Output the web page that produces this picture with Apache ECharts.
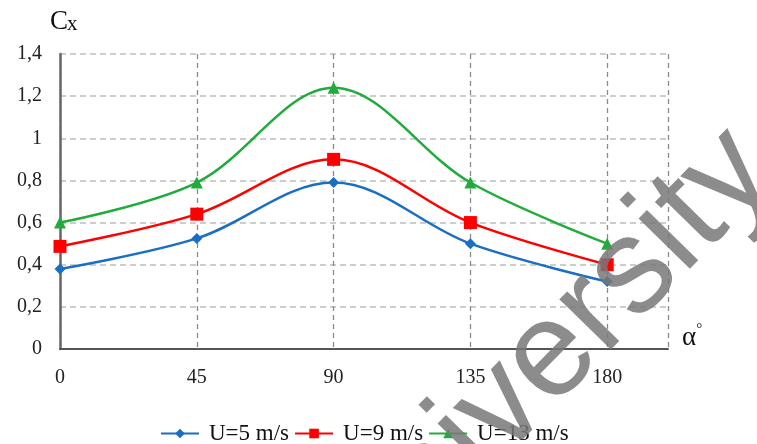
<!DOCTYPE html>
<html>
<head>
<meta charset="utf-8">
<script src="https://cdn.jsdelivr.net/npm/echarts@6/dist/echarts.min.js"></script>
<style>html,body{margin:0;padding:0;background:#fff;}#c{width:757px;height:444px;}</style>
</head>
<body>
<div id="c"></div>
<script>
var angles = [0, 45, 90, 135, 180];
var seriesNames = ['U=5 m/s', 'U=9 m/s', 'U=13 m/s'];
var u5 = [0.38, 0.525, 0.79, 0.50, 0.32];
var u9 = [0.487, 0.64, 0.90, 0.60, 0.40];
var u13 = [0.60, 0.79, 1.24, 0.79, 0.50];
var xTicks = ['0', '45', '90', '135', '180'];
var yTicks = ['0', '0,2', '0,4', '0,6', '0,8', '1', '1,2', '1,4'];

var serif = '"Liberation Serif", "DejaVu Serif", serif';
function pairs(vals) { return angles.map(function (a, i) { return [a, vals[i]]; }); }

var chart = echarts.init(document.getElementById('c'), null, {renderer: 'canvas'});
chart.setOption({
  animation: false,
  backgroundColor: '#fff',
  grid: {left: 60, right: 89, top: 54, bottom: 95},
  legend: {
    top: 417, left: 155,
    itemWidth: 38, itemHeight: 12, itemGap: 5,
    textStyle: {fontFamily: serif, fontSize: 23, color: '#111', padding: [0, 0, 0, 5]},
    data: seriesNames
  },
  xAxis: {
    type: 'value', min: 0, max: 200, interval: 45,
    axisLine: {lineStyle: {color: '#555', width: 2}},
    axisTick: {show: false},
    axisLabel: {
      margin: 19, fontFamily: serif, fontSize: 20, color: '#222',
      formatter: function (v) { var i = angles.indexOf(v); return i >= 0 ? xTicks[i] : ''; }
    },
    splitLine: {show: true, lineStyle: {color: '#8a8a8a', type: [5, 4], width: 1.3}}
  },
  yAxis: {
    type: 'value', min: 0, max: 1.4, interval: 0.2,
    axisLine: {show: true, lineStyle: {color: '#666', width: 2.5}},
    axisTick: {show: false},
    axisLabel: {
      margin: 18, fontFamily: serif, fontSize: 20, color: '#222',
      formatter: function (v) { return yTicks[Math.round(v / 0.2)]; }
    },
    splitLine: {show: true, lineStyle: {color: '#bdbdbd', type: [6, 4], width: 1.5}}
  },
  series: [
    {name: seriesNames[0], type: 'line', smooth: 0.35, data: pairs(u5),
     symbol: 'diamond', symbolSize: 11,
     itemStyle: {color: '#1a6fc4'}, lineStyle: {color: '#1a6fc4', width: 2.5}},
    {name: seriesNames[1], type: 'line', smooth: 0.35, data: pairs(u9),
     symbol: 'rect', symbolSize: 13,
     itemStyle: {color: '#ff0000'}, lineStyle: {color: '#ff0000', width: 2.5}},
    {name: seriesNames[2], type: 'line', smooth: 0.35, data: pairs(u13),
     symbol: 'triangle', symbolSize: 12,
     itemStyle: {color: '#21ab3c'}, lineStyle: {color: '#21ab3c', width: 2.5}}
  ],
  graphic: [
    {type: 'text', left: 50, top: 8,
     style: {text: 'C', fontFamily: serif, fontSize: 27, fill: '#111'}},
    {type: 'text', left: 67, top: 14,
     style: {text: 'x', fontFamily: serif, fontSize: 21, fill: '#111'}},
    {type: 'text', left: 682, top: 322,
     style: {text: '{a|α}{d|°}', rich: {
       a: {fontFamily: serif, fontSize: 27, fill: '#111'},
       d: {fontFamily: serif, fontSize: 15, fill: '#111', padding: [0, 0, 16, 0]}
     }}},
    {type: 'text', z: 100, x: 543, y: 365, rotation: 0.795,
     style: {text: 'University', fontFamily: '"Liberation Sans", Arial, sans-serif',
       fontSize: 136, fill: 'rgba(120,120,120,0.85)', align: 'center', verticalAlign: 'middle'}}
  ]
});
</script>
</body>
</html>
